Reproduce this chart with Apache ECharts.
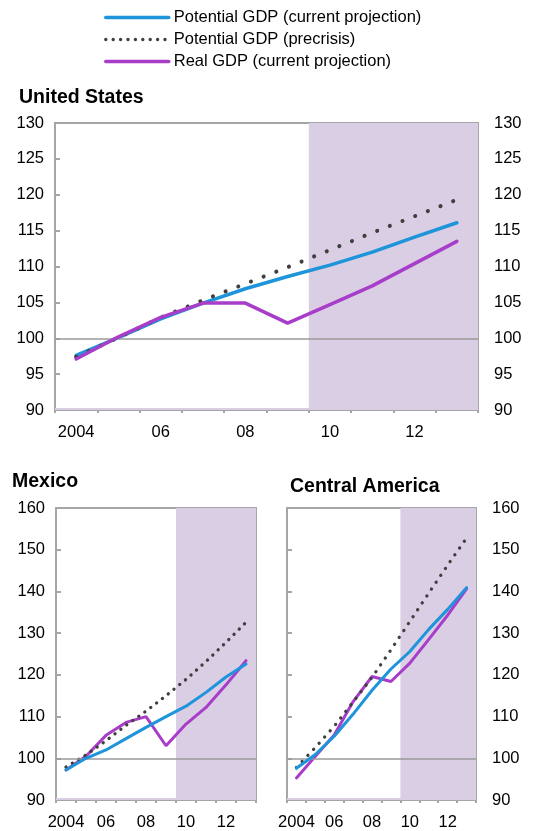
<!DOCTYPE html>
<html>
<head>
<meta charset="utf-8">
<script src="https://cdn.jsdelivr.net/npm/echarts@6/dist/echarts.min.js"></script>
<style>
html,body{margin:0;padding:0;background:#fff;}
#chart{width:539px;height:831px;}
</style>
</head>
<body>
<div id="chart"></div>
<script>
// ---- data ----
var years = ['2004','05','06','07','08','09','10','11','12','13'];
var seriesNames = ['Potential GDP (current projection)', 'Potential GDP (precrisis)', 'Real GDP (current projection)'];
var panelTitles = ['United States', 'Mexico', 'Central America'];

var usPotential  = [97.6, 100.1, 102.7, 104.9, 106.9, 108.6, 110.2, 112.0, 114.1, 116.1];
var usPrecrisis  = [97.4, 100.1, 102.9, 105.3, 107.6, 109.9, 112.3, 114.7, 117.0, 119.3];
var usReal       = [97.1, 100.2, 102.9, 104.9, 104.9, 102.1, 104.7, 107.3, 110.4, 113.5];

var mxPotential  = [97.2, 100.0, 102.0, 104.7, 107.4, 110.0, 112.5, 115.8, 119.5, 122.6];
var mxPrecrisis  = [97.9, 100.8, 104.2, 107.9, 111.3, 115.0, 118.9, 123.2, 127.8, 132.6];
var mxReal       = [97.2, 100.5, 105.5, 108.6, 110.0, 103.0, 108.2, 112.2, 117.6, 123.4];

var caPotential  = [97.6, 100.9, 105.3, 110.6, 116.3, 121.4, 125.6, 130.9, 135.7, 140.9];
var caPrecrisis  = [97.8, 102.6, 107.7, 113.5, 119.4, 126.0, 132.8, 139.6, 146.3, 152.8];
var caReal       = [95.3, 100.5, 105.6, 113.6, 119.6, 118.4, 122.8, 128.5, 134.3, 140.6];

var usTicks = {min: 90, max: 130, interval: 5};
var smallTicks = {min: 90, max: 160, interval: 10};
var projectionStart = 5.5; // boundary between 2009 and 2010
var baseLine = 100;

// ---- styles ----
var FONT = 'Liberation Sans, Arial, sans-serif';
var BLUE = '#1E94DA', PURPLE = '#A83DC9', DOT = '#3F3F3F', SHADE = '#D9CEE3', GRAY = '#A6A6A6';

var grids = [
  {left: 55, right: 61, top: 123, bottom: 421},
  {left: 56, right: 283, top: 508, bottom: 30},
  {left: 287, right: 63, top: 508, bottom: 31}
];
var ranges = [usTicks, smallTicks, smallTicks];
var showLeft = [true, true, false];
var showRight = [true, false, true];
var lw = [3.5, 3, 3];
var dash = [[0.1, 13.5], [0.1, 7.3], [0.1, 8.2]];
var dotW = [4, 3.3, 3.3];
var bandH = [0.28, 0.48, 0.48];
var data = [
  [usPotential, usPrecrisis, usReal],
  [mxPotential, mxPrecrisis, mxReal],
  [caPotential, caPrecrisis, caReal]
];

var xAxes = [], yAxes = [], series = [];
for (var g = 0; g < 3; g++) {
  xAxes.push({
    type: 'category', gridIndex: g, data: years, boundaryGap: true,
    axisLine: {show: true, onZero: false, lineStyle: {color: GRAY, width: 2}},
    axisTick: {show: true, inside: false, length: 3, interval: 0, alignWithLabel: false, lineStyle: {color: GRAY, width: 2}},
    axisLabel: {interval: 1, color: '#000', fontSize: 16.5, fontFamily: FONT, margin: 14},
    splitLine: {show: false}
  });
}
for (var g = 0; g < 3; g++) {
  xAxes.push({type: 'value', gridIndex: g, min: -0.5, max: 9.5, show: false, axisLine: {onZero: false}});
}
for (var g = 0; g < 3; g++) {
  var r = ranges[g];
  [['left', showLeft[g]], ['right', showRight[g]]].forEach(function (p) {
    yAxes.push({
      type: 'value', gridIndex: g, position: p[0], min: r.min, max: r.max, interval: r.interval,
      axisLine: {show: true, onZero: false, lineStyle: {color: GRAY, width: 2}},
      axisTick: {show: true, inside: true, length: 5, lineStyle: {color: GRAY, width: 2}},
      axisLabel: {show: p[1], color: '#000', fontSize: 16.5, fontFamily: FONT, margin: p[0] === 'left' ? 11 : 16},
      splitLine: {show: false}
    });
  });
}

for (var g = 0; g < 3; g++) {
  // shading + baseline
  series.push({
    type: 'line', xAxisIndex: 3 + g, yAxisIndex: 2 * g, data: [], silent: true, z: 1,
    markArea: {
      silent: true,
      itemStyle: {color: SHADE},
      data: [
        [{xAxis: projectionStart}, {xAxis: 9.5}],
        [{yAxis: ranges[g].min}, {yAxis: ranges[g].min + bandH[g]}]
      ]
    },
    markLine: {
      silent: true, symbol: ['none', 'none'], label: {show: false},
      lineStyle: {color: '#9A9A9A', width: 1.5, type: 'solid'},
      data: [{yAxis: baseLine}]
    }
  });
  var d = data[g];
  var blue = {
    name: seriesNames[0], type: 'line', xAxisIndex: g, yAxisIndex: 2 * g, data: d[0],
    symbol: 'none', z: 3, lineStyle: {color: BLUE, width: lw[g], cap: 'round'}, itemStyle: {color: BLUE}
  };
  var dotted = {
    name: seriesNames[1], type: 'line', xAxisIndex: g, yAxisIndex: 2 * g, data: d[1],
    symbol: 'none', z: 4, lineStyle: {color: DOT, width: dotW[g], type: dash[g], cap: 'round'}, itemStyle: {color: DOT}
  };
  var real = {
    name: seriesNames[2], type: 'line', xAxisIndex: g, yAxisIndex: 2 * g, data: d[2],
    symbol: 'none', z: 3, lineStyle: {color: PURPLE, width: lw[g], cap: 'round'}, itemStyle: {color: PURPLE}
  };
  if (g === 0) { real.z = 5; series.push(blue, dotted, real); }
  else { blue.z = 5; series.push(real, dotted, blue); }
}

var chart = echarts.init(document.getElementById('chart'), null, {renderer: 'canvas'});
chart.setOption({
  animation: false,
  backgroundColor: '#fff',
  title: [
    {text: panelTitles[0], left: 19, top: 88, padding: 0, textStyle: {fontSize: 19.5, fontWeight: 'bold', color: '#000', fontFamily: FONT}},
    {text: panelTitles[1], left: 12, top: 472, padding: 0, textStyle: {fontSize: 19.5, fontWeight: 'bold', color: '#000', fontFamily: FONT}},
    {text: panelTitles[2], left: 290, top: 477, padding: 0, textStyle: {fontSize: 19.5, fontWeight: 'bold', color: '#000', fontFamily: FONT}}
  ],
  legend: {
    orient: 'vertical', left: 104, top: 9, padding: 0,
    itemWidth: 63, itemHeight: 14, itemGap: 5,
    textStyle: {fontSize: 16.5, color: '#000', fontFamily: FONT, lineHeight: 16},
    data: [
      {name: seriesNames[0], itemStyle: {opacity: 0}, lineStyle: {width: 3.5}},
      {name: seriesNames[1], itemStyle: {opacity: 0}, lineStyle: {width: 3.3, type: [0.1, 7.3], cap: 'round'}},
      {name: seriesNames[2], itemStyle: {opacity: 0}, lineStyle: {width: 3.5}}
    ]
  },
  grid: grids.map(function (gr) {
    return Object.assign({show: true, borderColor: GRAY, borderWidth: 2, backgroundColor: 'transparent'}, gr);
  }),
  xAxis: xAxes,
  yAxis: yAxes,
  series: series
});
</script>
</body>
</html>
